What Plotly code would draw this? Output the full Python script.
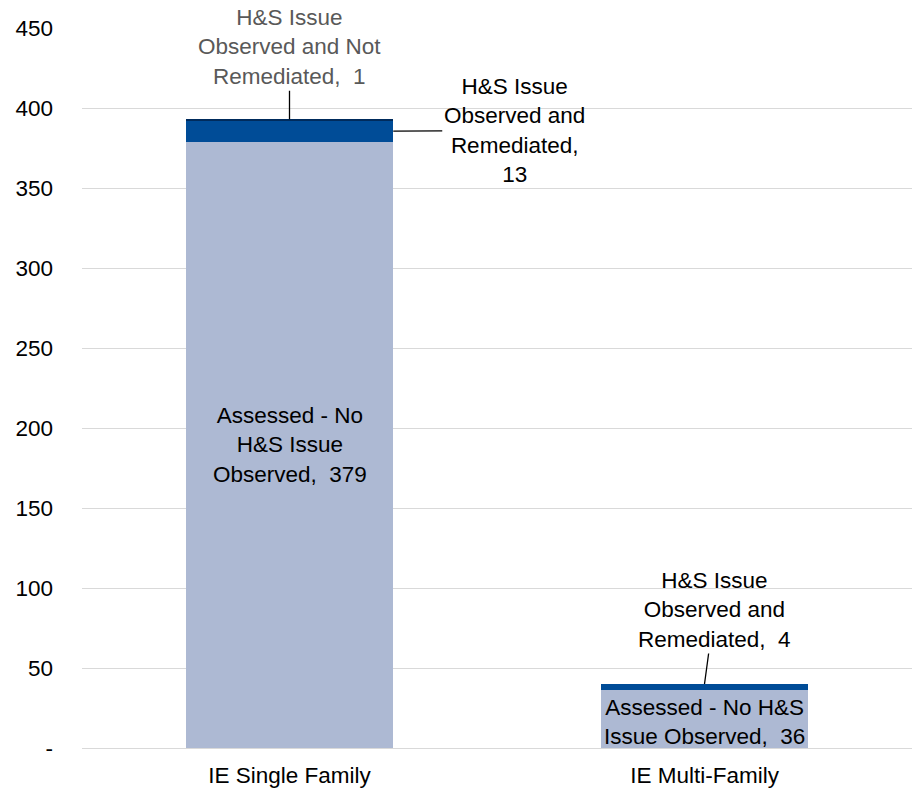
import plotly.graph_objects as go

categories = ["IE Single Family", "IE Multi-Family"]
no_issue = [379, 36]
remediated = [13, 4]
not_remediated = [1, 0]
y_ticks = [0, 50, 100, 150, 200, 250, 300, 350, 400, 450]
y_tick_labels = ["-", "50", "100", "150", "200", "250", "300", "350", "400", "450"]

FONT = "Liberation Sans, Arial, sans-serif"
FS = 22.5

fig = go.Figure()
fig.add_trace(go.Bar(x=categories, y=no_issue, name="Assessed - No H&S Issue Observed",
                     marker=dict(color="#ADB9D3", line_width=0)))
fig.add_trace(go.Bar(x=categories, y=remediated, name="H&S Issue Observed and Remediated",
                     marker=dict(color="#004C97", line_width=0)))
fig.add_trace(go.Bar(x=categories, y=not_remediated, name="H&S Issue Observed and Not Remediated",
                     marker=dict(color="#002B5C", line_width=0)))

ann = []
# inside labels for "Assessed" segment
ann.append(dict(x=0, y=no_issue[0] / 2, xref="x", yref="y", showarrow=False,
                text=f"Assessed - No<br>H&S Issue<br>Observed,  {no_issue[0]}",
                font=dict(size=FS, color="#000000", family=FONT)))
ann.append(dict(x=1, y=no_issue[1] / 2, xref="x", yref="y", showarrow=False, yshift=-3,
                text=f"Assessed - No H&S<br>Issue Observed,  {no_issue[1]}",
                font=dict(size=FS, color="#000000", family=FONT)))
# leader-line labels
top0 = no_issue[0] + remediated[0] + not_remediated[0]
ann.append(dict(x=0, y=top0, xref="x", yref="y", showarrow=True, arrowhead=0,
                arrowwidth=1.3, arrowcolor="#000000", ax=0, ay=-72,
                text=f"H&S Issue<br>Observed and Not<br>Remediated,  {not_remediated[0]}",
                font=dict(size=FS, color="#595959", family=FONT), standoff=0))
ann.append(dict(x=0.25, y=no_issue[0] + remediated[0] / 2, xref="x", yref="y", showarrow=True,
                arrowhead=0, arrowwidth=1.3, arrowcolor="#000000", ax=121, ay=-1,
                text=f"H&S Issue<br>Observed and<br>Remediated,<br>{remediated[0]}",
                font=dict(size=FS, color="#000000", family=FONT), standoff=0))
ann.append(dict(x=1, y=no_issue[1] + remediated[1], xref="x", yref="y", showarrow=True,
                arrowhead=0, arrowwidth=1.3, arrowcolor="#000000", ax=10, ay=-74,
                text=f"H&S Issue<br>Observed and<br>Remediated,  {remediated[1]}",
                font=dict(size=FS, color="#000000", family=FONT), standoff=0))

fig.update_layout(
    barmode="stack",
    bargap=0.5,
    width=912, height=791,
    margin=dict(l=82, r=0, t=28, b=43),
    plot_bgcolor="white", paper_bgcolor="white",
    showlegend=False,
    font=dict(family=FONT, size=FS, color="#000000"),
    annotations=ann,
    xaxis=dict(showgrid=False, showline=False, ticks="", ticklabelstandoff=11,
               automargin=False, tickfont=dict(size=FS, color="#000000")),
    yaxis=dict(range=[0, 450], tickvals=y_ticks, ticktext=y_tick_labels,
               showgrid=True, gridcolor="#D9D9D9", gridwidth=1.3,
               zeroline=True, zerolinecolor="#D9D9D9", zerolinewidth=1.3,
               showline=False, ticks="", ticklabelstandoff=28, automargin=False,
               tickfont=dict(size=FS, color="#000000")),
)

fig.write_html("out.html", config={"displayModeBar": False},
               post_script="document.body.style.margin='0';document.body.style.overflow='hidden';")
